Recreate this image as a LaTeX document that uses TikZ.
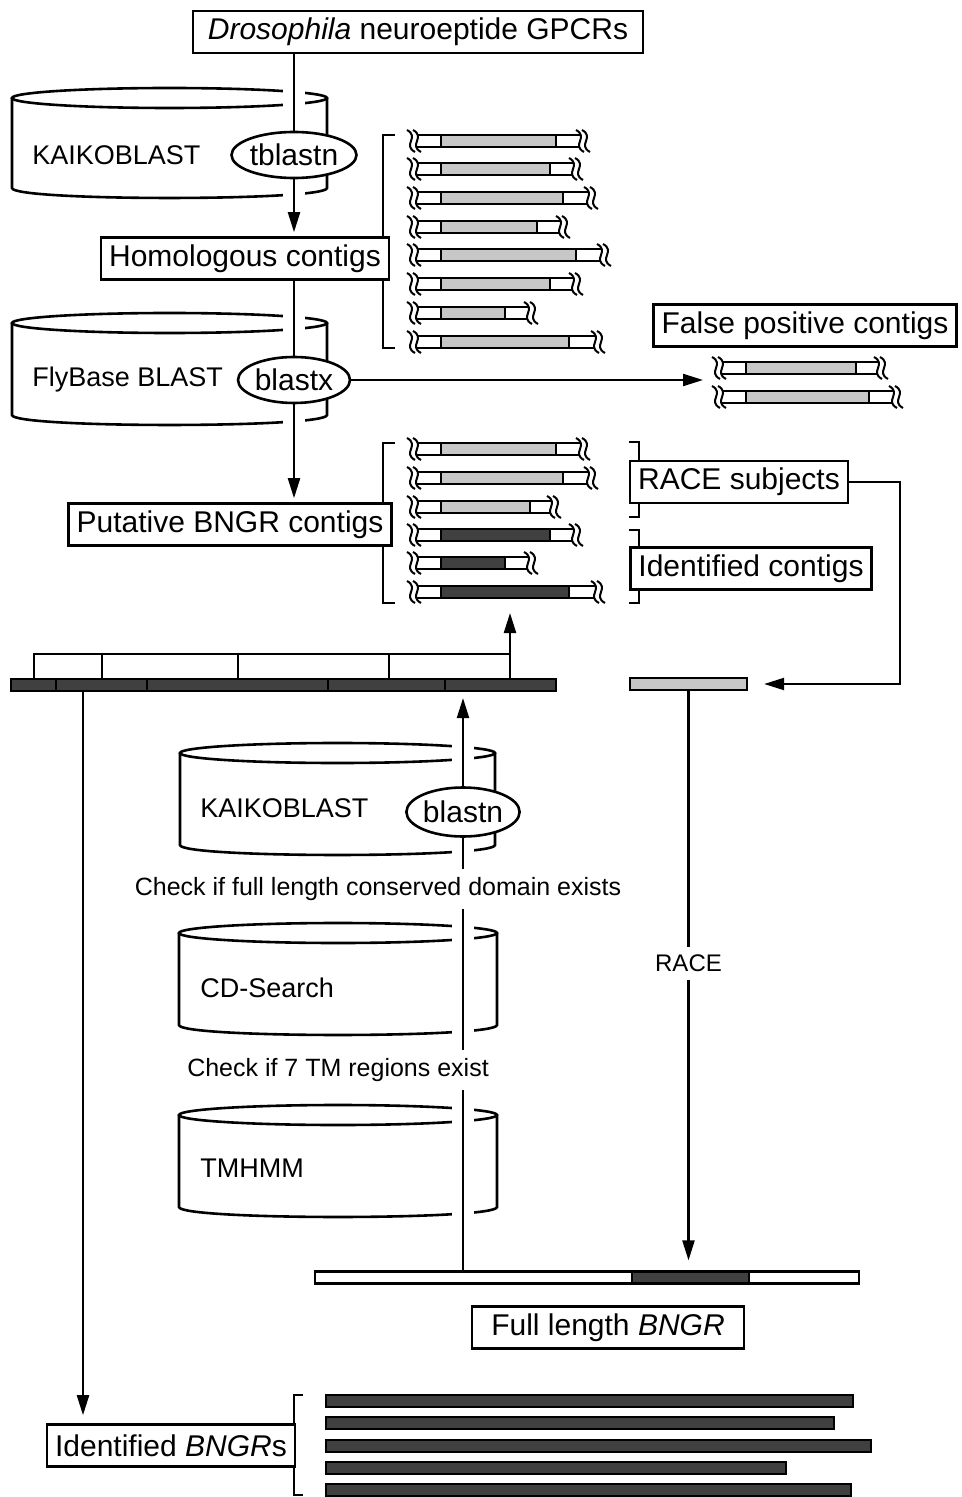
\documentclass[tikz,border=0pt]{standalone}
\usepackage{fontspec}
\setmainfont{Liberation Sans}
\usetikzlibrary{arrows.meta,positioning,shapes.geometric}
\definecolor{lightgrey}{gray}{0.78}
\definecolor{darkgrey}{gray}{0.25}

\newcommand{\breakmark}[2]{%
  \draw[contigline] (#1-4,#2-11) .. controls (#1+9,#2-4) and (#1-9,#2+4) .. (#1+4,#2+11);
  \draw[contigline] (#1+2,#2-11) .. controls (#1+15,#2-4) and (#1-3,#2+4) .. (#1+10,#2+11);}
\newcommand{\contig}[5]{%
  \draw[contigline] (#1+6,#2-6) -- (#4,#2-6) (#1+6,#2+6) -- (#4,#2+6);
  \draw[contigline,fill=#5] (#1+30,#2-6) rectangle (#3,#2+6);
  \breakmark{#1}{#2}\breakmark{#4}{#2}}
\newcommand{\dbcyl}[5]{%
  \draw[dbline] ({(#1+#2)/2},#3) ellipse [x radius={(#2-#1)/2}, y radius=10];
  \draw[dbline] (#1,#3) -- (#1,#4) .. controls (#1,#4+13.3) and (#2,#4+13.3) .. (#2,#4) -- (#2,#3);
  \draw[white,line width=11pt] (#5,#3-13) -- (#5,#3+13) (#5,#4-2) -- (#5,#4+15);}

\begin{document}
\begin{tikzpicture}[x=0.5pt,y=-0.5pt]
\tikzstyle{dbline}=[line width=1.3pt]
\tikzstyle{contigline}=[line width=1pt]
\tikzstyle{conn}=[line width=1.1pt]
\tikzstyle{arrow}=[conn,-{Triangle[length=10pt,width=6pt]},shorten >=2pt]
\tikzstyle{box}=[draw,line width=1.3pt,fill=white,inner xsep=4pt,minimum height=21pt,font=\fontsize{15}{18}\selectfont]
\tikzstyle{tool}=[ellipse,draw,line width=1.3pt,fill=white,inner sep=0pt,minimum width=56pt,minimum height=23pt,font=\fontsize{15}{18}\selectfont]
\tikzstyle{dbname}=[anchor=west,inner sep=0pt,font=\fontsize{13.5}{16}\selectfont]
\tikzstyle{check}=[fill=white,inner sep=4pt,font=\fontsize{12.5}{15}\selectfont]
\tikzstyle{seqbar}=[draw,line width=1.1pt,minimum height=6pt,inner sep=0pt]

\useasboundingbox (0,0) rectangle (962,1497);

\dbcyl{12}{327}{98}{188}{294}
\dbcyl{12}{327}{323}{415}{294}
\dbcyl{180}{495}{753}{845}{463}
\dbcyl{179}{497}{933}{1025}{463}
\dbcyl{179}{497}{1115}{1207}{463}

\draw[conn] (395,135) -| (383,348) -- (395,348);
\draw[conn] (395,443) -| (383,603) -- (395,603);
\draw[conn] (629,442) -| (639,517) -- (629,517);
\draw[conn] (629,530) -| (639,603) -- (629,603);
\draw[conn] (303,1395) -| (294,1495) -- (303,1495);

\foreach \py/\gend/\rend in {141/556/580,169/550/573,198/563/588,227/537/560,255/576/601,284/550/573,313/505/528,342/569/595}
  {\contig{411}{\py}{\gend}{\rend}{lightgrey}}
\foreach \py/\gend/\rend/\shade in {449/556/580/lightgrey,478/563/588/lightgrey,507/530/551/lightgrey,535/550/573/darkgrey,563/505/528/darkgrey,592/569/595/darkgrey}
  {\contig{411}{\py}{\gend}{\rend}{\shade}}
\foreach \py/\gend/\rend in {368/856/878,397/869/893}
  {\contig{716}{\py}{\gend}{\rend}{lightgrey}}

\node[seqbar,fill=darkgrey,minimum width=272.5pt] (fragbar) at (283.5,685) {};
\foreach \px in {56,147,328,445} \draw[conn] (\px,679) -- (\px,691);
\draw[conn] (34,679) |- (510,654);
\foreach \px in {102,238,389} \draw[conn] (\px,654) -- (\px,679);
\node[seqbar,fill=lightgrey,minimum width=58.5pt] (racebar) at (688.5,684) {};
\node[seqbar,fill=white,minimum width=272pt] (fullbar) at (587,1277.5) {};
\draw[conn,fill=darkgrey] (632,1271.5) rectangle (749,1283.5);
\foreach \py/\rend in {1401/853,1423/834,1446/871,1468/786,1490/851}
  \draw[conn,fill=darkgrey] (326,\py-6) rectangle (\rend,\py+6);

\node[box,minimum width=225pt] (gpcr) at (418,32) {\textit{Drosophila} neuroeptide GPCRs};
\node[box] (homol) at (245,258.5) {Homologous contigs};
\node[box] (putative) at (230,524.5) {Putative BNGR contigs};
\node[box] (falsepos) at (805,325.5) {False positive contigs};
\node[box] (racesubj) at (739,482) {RACE subjects};
\node[box] (identc) at (751,568.5) {Identified contigs};
\node[box,minimum width=136pt] (fulllen) at (608,1327.5) {Full length \textit{BNGR}};
\node[box] (idbngr) at (171,1445.5) {Identified \textit{BNGR}s};

\node[tool] (tblastn) at (294,155) {tblastn};
\node[tool] (blastx) at (294,380) {blastx};
\node[tool,minimum height=24.5pt] (blastn) at (463,812) {blastn};

\node[dbname] (kaiko) at (32,155) {KAIKOBLAST};
\node[dbname] (flybase) at (32,380) {FlyBase BLAST};
\node[dbname] (kaikolow) at (200,808) {KAIKOBLAST};
\node[dbname] (cdsearch) at (200,988) {CD-Search};
\node[dbname] (tmhmm) at (200,1168) {TMHMM};

\node[check] (checkcd) at (378,889) {Check if full length conserved domain exists};
\node[check] (checktm) at (338,1070) {Check if 7 TM regions exist};

\draw[conn] (tblastn |- gpcr.south) -- (tblastn.north);
\draw[arrow] (tblastn.south) -- (tblastn |- homol.north);
\draw[conn] (blastx |- homol.south) -- (blastx.north);
\draw[arrow] (blastx.south) -- (blastx |- putative.north);
\coordinate (fpin) at (703,380);
\draw[arrow,shorten >=0pt] (blastx.east) -- (fpin);
\coordinate (racecorner) at (900,684);
\draw[arrow,shorten >=8pt] (racesubj.east) -| (racecorner) -- (racebar.east);
\draw[arrow,shorten >=5pt] (racebar.south) -- (racebar.south |- fullbar.north)
  node[pos=0.47,check,font=\fontsize{12}{14}\selectfont] {RACE};
\draw[conn] (blastn |- fullbar.north) -- (blastn |- checktm.south);
\draw[conn] (blastn |- checktm.north) -- (blastn |- checkcd.south);
\draw[conn] (blastn |- checkcd.north) -- (blastn.south);
\draw[arrow,shorten >=3pt] (blastn.north) -- (blastn |- fragbar.south);
\coordinate (grptip) at (510,613);
\draw[arrow,shorten >=0pt] (grptip |- fragbar.north) -- (grptip);
\coordinate (fragdrop) at (83,691);
\draw[arrow,shorten >=4pt] (fragdrop) -- (fragdrop |- idbngr.north);
\end{tikzpicture}
\end{document}
